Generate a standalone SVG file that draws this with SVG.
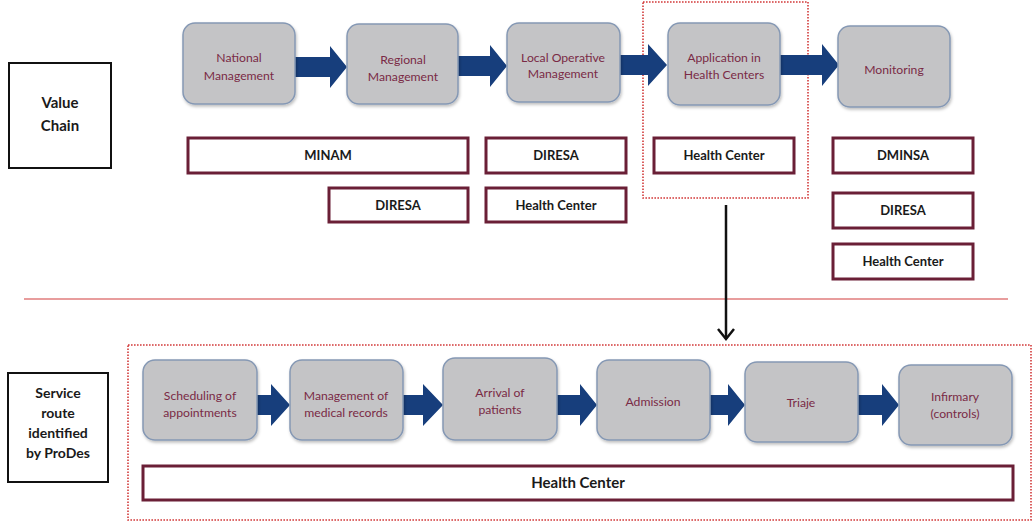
<svg xmlns="http://www.w3.org/2000/svg" width="1034" height="523" viewBox="0 0 1034 523">
  <style>
    .step { fill: #c4c4c6; stroke: #8598b4; stroke-width: 1.5; filter: url(#shadow); }
    .step-text { font-family: Lato, "Open Sans", sans-serif; font-size: 12.2px; fill: #7a2a45; text-anchor: middle; }
    .actor { fill: #ffffff; stroke: #6a1f36; stroke-width: 3; }
    .actor-text { font-family: Lato, "Open Sans", sans-serif; font-size: 13px; font-weight: bold; fill: #1a1a1a; text-anchor: middle; }
    .label { fill: #ffffff; stroke: #111111; stroke-width: 2; }
    .label-text { font-family: Lato, "Open Sans", sans-serif; font-size: 15px; font-weight: bold; fill: #1a1a1a; text-anchor: middle; }
    .flow { fill: #173e7c; }
    .focus { fill: none; stroke: #d23a3a; stroke-width: 1.6; stroke-dasharray: 1.6 1.4; }
  </style>
  <defs>
    <filter id="shadow" x="-10%" y="-10%" width="125%" height="130%">
      <feDropShadow dx="1" dy="2" stdDeviation="1.5" flood-color="#000000" flood-opacity="0.25"/>
    </filter>
  </defs>
  <rect width="1034" height="523" fill="#ffffff"/>

  <!-- row labels -->
  <g id="label-value-chain">
    <rect class="label" x="9" y="63" width="102" height="105"/>
    <text class="label-text" x="60" y="108">Value</text>
    <text class="label-text" x="60" y="131">Chain</text>
  </g>
  <g id="label-service-route">
    <rect class="label" x="8" y="373" width="100" height="109"/>
    <text class="label-text" x="58" y="398" style="font-size:14px">Service</text>
    <text class="label-text" x="58" y="418" style="font-size:14px">route</text>
    <text class="label-text" x="58" y="438" style="font-size:14px">identified</text>
    <text class="label-text" x="58" y="458" style="font-size:14px">by ProDes</text>
  </g>

  <!-- separator -->
  <line x1="24" y1="299" x2="1008" y2="299" stroke="#e07c7c" stroke-width="1.5"/>

  <!-- highlighted stage and service route frames -->
  <rect class="focus" x="643" y="2" width="165" height="196"/>
  <rect class="focus" x="128" y="345" width="903" height="175"/>

  <g id="connectors">
    <!-- value chain flow -->
    <polygon class="flow" points="295,57 330,57 330,46 347,67 330,88 330,77 295,77"/>
    <polygon class="flow" points="458,56 490,56 490,45 507,66 490,87 490,76 458,76"/>
    <polygon class="flow" points="620,55 648,55 648,44 667,65 648,86 648,75 620,75"/>
    <polygon class="flow" points="780,55 822,55 822,44 839,65 822,86 822,75 780,75"/>
    <!-- service route flow -->
    <polygon class="flow" points="257,395 271,395 271,384 290,405 271,426 271,415 257,415"/>
    <polygon class="flow" points="403,395 423,395 423,384 443,405 423,426 423,415 403,415"/>
    <polygon class="flow" points="557,395 580,395 580,384 597,405 580,426 580,415 557,415"/>
    <polygon class="flow" points="710,395 728,395 728,384 745,405 728,426 728,415 710,415"/>
    <polygon class="flow" points="858,395 882,395 882,384 899,405 882,426 882,415 858,415"/>
    <!-- drill-down arrow -->
    <line x1="726" y1="205" x2="726" y2="339" stroke="#111111" stroke-width="2.5"/>
    <polyline points="718,329 726,339 734,329" fill="none" stroke="#111111" stroke-width="2.5"/>
  </g>

  <!-- value chain stages -->
  <g id="stage-national">
    <rect class="step" x="183" y="23" width="112" height="81" rx="12"/>
    <text class="step-text" x="239" y="62">National</text>
    <text class="step-text" x="239" y="80">Management</text>
  </g>
  <g id="stage-regional">
    <rect class="step" x="347" y="24" width="111" height="80" rx="12"/>
    <text class="step-text" x="403" y="64">Regional</text>
    <text class="step-text" x="403" y="81">Management</text>
  </g>
  <g id="stage-local">
    <rect class="step" x="507" y="23" width="113" height="79" rx="12"/>
    <text class="step-text" x="563" y="62">Local Operative</text>
    <text class="step-text" x="563" y="78">Management</text>
  </g>
  <g id="stage-application">
    <rect class="step" x="668" y="23" width="112" height="82" rx="12"/>
    <text class="step-text" x="724" y="62">Application in</text>
    <text class="step-text" x="724" y="79">Health Centers</text>
  </g>
  <g id="stage-monitoring">
    <rect class="step" x="838" y="26" width="112" height="81" rx="12"/>
    <text class="step-text" x="894" y="74">Monitoring</text>
  </g>

  <!-- responsible bodies -->
  <g id="actor-minam">
    <rect class="actor" x="188" y="138" width="280" height="35"/>
    <text class="actor-text" x="328" y="160">MINAM</text>
  </g>
  <g id="actor-diresa-regional">
    <rect class="actor" x="329" y="188" width="139" height="34"/>
    <text class="actor-text" x="398" y="210">DIRESA</text>
  </g>
  <g id="actor-diresa-local">
    <rect class="actor" x="486" y="138" width="140" height="35"/>
    <text class="actor-text" x="556" y="160">DIRESA</text>
  </g>
  <g id="actor-hc-local">
    <rect class="actor" x="486" y="188" width="140" height="34"/>
    <text class="actor-text" x="556" y="210">Health Center</text>
  </g>
  <g id="actor-hc-application">
    <rect class="actor" x="654" y="138" width="140" height="35"/>
    <text class="actor-text" x="724" y="160">Health Center</text>
  </g>
  <g id="actor-dminsa">
    <rect class="actor" x="833" y="138" width="140" height="35"/>
    <text class="actor-text" x="903" y="160">DMINSA</text>
  </g>
  <g id="actor-diresa-monitoring">
    <rect class="actor" x="833" y="193" width="140" height="35"/>
    <text class="actor-text" x="903" y="215">DIRESA</text>
  </g>
  <g id="actor-hc-monitoring">
    <rect class="actor" x="833" y="244" width="140" height="35"/>
    <text class="actor-text" x="903" y="266">Health Center</text>
  </g>

  <!-- service route steps -->
  <g id="step-scheduling">
    <rect class="step" x="143" y="360" width="114" height="80" rx="12"/>
    <text class="step-text" x="200" y="400">Scheduling of</text>
    <text class="step-text" x="200" y="417">appointments</text>
  </g>
  <g id="step-records">
    <rect class="step" x="290" y="360" width="113" height="80" rx="12"/>
    <text class="step-text" x="346" y="400">Management of</text>
    <text class="step-text" x="346" y="417">medical records</text>
  </g>
  <g id="step-arrival">
    <rect class="step" x="443" y="358" width="114" height="82" rx="12"/>
    <text class="step-text" x="500" y="397">Arrival of</text>
    <text class="step-text" x="500" y="414">patients</text>
  </g>
  <g id="step-admission">
    <rect class="step" x="597" y="360" width="113" height="80" rx="12"/>
    <text class="step-text" x="653" y="406">Admission</text>
  </g>
  <g id="step-triaje">
    <rect class="step" x="745" y="362" width="113" height="80" rx="12"/>
    <text class="step-text" x="801" y="407">Triaje</text>
  </g>
  <g id="step-infirmary">
    <rect class="step" x="899" y="365" width="113" height="80" rx="12"/>
    <text class="step-text" x="955" y="401">Infirmary</text>
    <text class="step-text" x="955" y="418">(controls)</text>
  </g>

  <g id="actor-hc-route">
    <rect class="actor" x="143" y="466" width="870" height="34"/>
    <text class="actor-text" x="578" y="488" style="font-size:15px">Health Center</text>
  </g>
</svg>
